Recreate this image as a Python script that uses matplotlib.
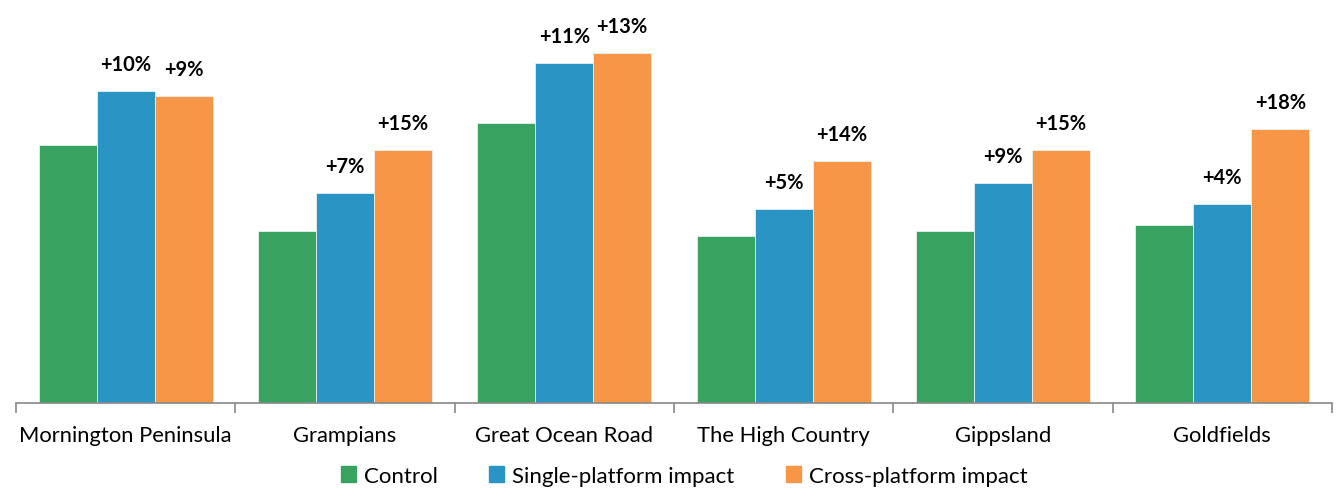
import matplotlib
matplotlib.use("Agg")
import matplotlib.pyplot as plt
import numpy as np
from matplotlib.patches import Patch

plt.rcParams["font.family"] = ["Lato", "DejaVu Sans"]

regions = ["Mornington Peninsula", "Grampians", "Great Ocean Road",
           "The High Country", "Gippsland", "Goldfields"]
series_names = ["Control", "Single-platform impact", "Cross-platform impact"]
control = [258, 172, 280, 167, 172, 178]
single = [312, 210, 340, 194, 220, 199]
cross = [307, 253, 350, 242, 253, 274]
single_labels = ["+10%", "+7%", "+11%", "+5%", "+9%", "+4%"]
cross_labels = ["+9%", "+15%", "+13%", "+14%", "+15%", "+18%"]
colors = ["#38A360", "#2A95C5", "#F79646"]

W, H = 1336, 489
fig = plt.figure(figsize=(W / 100, H / 100), dpi=100)
ax = fig.add_axes([16 / W, (H - 403.5) / H, (1332 - 16) / W, 403.5 / H])

x = np.arange(len(regions))
bw = 0.264
for i, vals in enumerate([control, single, cross]):
    ax.bar(x + (i - 1) * bw, vals, bw, color=colors[i], edgecolor="#e8f0f0",
           linewidth=0.6, label=series_names[i])

# percent labels over the two impact bars
for xi, v, lab in zip(x, single, single_labels):
    ax.annotate(lab, (xi, v), xytext=(0, 15), textcoords="offset points",
                ha="center", va="baseline", fontsize=14.5, fontweight="bold")
for xi, v, lab in zip(x, cross, cross_labels):
    ax.annotate(lab, (xi + bw, v), xytext=(0, 15), textcoords="offset points",
                ha="center", va="baseline", fontsize=14.5, fontweight="bold")

ax.set_xlim(-0.5, len(regions) - 0.5)
ax.set_ylim(0, 403.5)
ax.set_yticks([])
for s in ["top", "right", "left"]:
    ax.spines[s].set_visible(False)
ax.spines["bottom"].set_color("#888888")
ax.spines["bottom"].set_linewidth(1.2)

ax.set_xticks(x)
ax.set_xticklabels(regions, fontsize=15.8)
ax.tick_params(axis="x", which="major", length=0, pad=16)
ax.set_xticks(np.arange(len(regions) + 1) - 0.5, minor=True)
ax.tick_params(axis="x", which="minor", length=7, width=1.2, color="#888888")

handles = [Patch(color=c) for c in colors]
fig.legend(handles, series_names, loc="center", bbox_to_anchor=(684 / W, 1 - 477 / H),
           ncol=3, frameon=False, fontsize=16, handlelength=0.7, handleheight=0.7,
           handletextpad=0.35, columnspacing=2.3, borderaxespad=0)

fig.savefig("out.png", dpi=100)
